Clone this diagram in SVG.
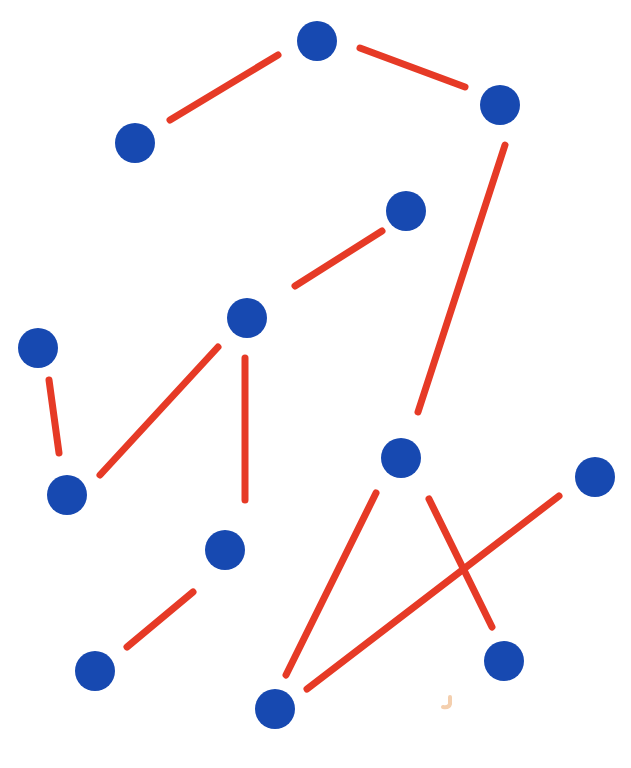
<svg xmlns="http://www.w3.org/2000/svg" width="631" height="768" viewBox="0 0 631 768">
<style>
.node{fill:#1749b1}
.edge{stroke:#e63a26;stroke-width:7;stroke-linecap:round;fill:none}
</style>
<rect width="631" height="768" fill="#ffffff"/>
<g id="connectors">
<line class="edge" x1="170" y1="120" x2="278" y2="55"/>
<line class="edge" x1="360" y1="48" x2="465" y2="87"/>
<line class="edge" x1="505" y1="145" x2="418" y2="412"/>
<line class="edge" x1="382" y1="231" x2="295" y2="286"/>
<line class="edge" x1="218" y1="347" x2="100" y2="475"/>
<line class="edge" x1="245" y1="358" x2="245" y2="500"/>
<line class="edge" x1="49" y1="380" x2="59" y2="453"/>
<line class="edge" x1="376" y1="493" x2="286" y2="675"/>
<line class="edge" x1="429" y1="499" x2="492" y2="627"/>
<line class="edge" x1="559" y1="496" x2="307" y2="689"/>
<line class="edge" x1="193" y1="592" x2="127" y2="647"/>
</g>
<g id="n1"><circle class="node" cx="135" cy="143" r="20"/></g>
<g id="n2"><circle class="node" cx="317" cy="41" r="20"/></g>
<g id="n3"><circle class="node" cx="500" cy="105" r="20"/></g>
<g id="n4"><circle class="node" cx="406" cy="211" r="20"/></g>
<g id="n5"><circle class="node" cx="247" cy="318" r="20"/></g>
<g id="n6"><circle class="node" cx="38" cy="348" r="20"/></g>
<g id="n7"><circle class="node" cx="67" cy="495" r="20"/></g>
<g id="n8"><circle class="node" cx="401" cy="458" r="20"/></g>
<g id="n9"><circle class="node" cx="595" cy="477" r="20"/></g>
<g id="n10"><circle class="node" cx="225" cy="550" r="20"/></g>
<g id="n11"><circle class="node" cx="95" cy="671" r="20"/></g>
<g id="n12"><circle class="node" cx="275" cy="709" r="20"/></g>
<g id="n13"><circle class="node" cx="504" cy="661" r="20"/></g>
<path d="M450 697 L450 704 Q449 708 443 707" stroke="#f4cfae" stroke-width="4" fill="none" stroke-linecap="round"/>
</svg>
